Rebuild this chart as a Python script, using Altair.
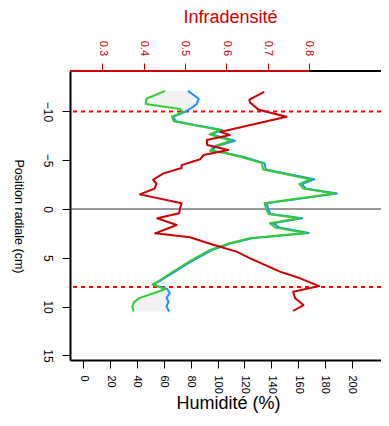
import altair as alt
import pandas as pd

# Humidity profiles (radial position in cm, humidity in %)
hum_y = [-12.1, -11.3, -10.75, -10.25, -9.95, -9.45, -9.0, -8.6, -8.1, -7.65,
         -7.0, -6.4, -5.95, -5.8, -5.35, -4.7, -4.05, -3.05, -2.55, -2.1,
         -1.6, -0.6, 0.1, 0.5, 0.95, 1.45, 1.9, 2.45, 3.0, 3.5,
         4.2, 5.2, 6.4, 7.3, 7.75, 8.2, 8.6, 9.1, 9.5, 10.0, 10.5]
green = [61, 47, 46.5, 72, 74.5, 66, 67.5, 82, 102, 94,
         110, 97, 94.5, 103, 117, 133, 134, 169, 161, 164,
         187, 135, 136.5, 138, 161, 139, 143, 166, 124, 109,
         94.5, 81, 67, 57, 51.5, 61, 53, 42, 38, 36.5, 37.5]
blue = [78, 86, 84.5, 79.5, 76, 67, 69, 83, 103.5, 95.5,
        113, 98.5, 96, 104.5, 119, 135, 136, 172, 163, 165.5,
        189, 136.5, 138, 139.5, 163, 141.5, 146, 168, 125.5, 110.5,
        96, 82.5, 68.5, 58, 52, 62.5, 64.5, 62, 63.5, 62, 64]

# Infradensity profile
dens_y = [-12.0, -11.2, -10.9, -10.2, -9.97, -9.46, -7.9, -7.58, -7.07, -6.56,
          -6.05, -5.53, -5.09, -4.5, -4.2, -3.65, -3.0, -2.6, -2.1, -1.5,
          -0.58, -0.07, 0.44, 0.95, 1.64, 2.49, 2.9, 3.45, 3.86, 4.37,
          5.05, 6.42, 7.1, 7.9, 8.47, 9.15, 9.84, 10.45]
dens = [0.692, 0.656, 0.658, 0.678, 0.698, 0.746, 0.585, 0.609, 0.553, 0.554,
        0.605, 0.545, 0.537, 0.492, 0.492, 0.448, 0.423, 0.431, 0.427, 0.391,
        0.492, 0.488, 0.486, 0.433, 0.48, 0.428, 0.512, 0.553, 0.585, 0.625,
        0.658, 0.73, 0.779, 0.825, 0.762, 0.767, 0.787, 0.762]

ref_lines = [-10, 8]
zero_line = [0]

hum_ticks = [0, 20, 40, 60, 80, 100, 120, 140, 160, 180, 200]
dens_ticks = [0.3, 0.4, 0.5, 0.6, 0.7, 0.8]
y_ticks = [-10, -5, 0, 5, 10, 15]

HUM_DOMAIN = [-9.9, 221.8]
DENS_DOMAIN = [0.2218, 0.9748]
Y_DOMAIN = [-14.14, 15.47]

RED = "#CC0000"

hum_df = pd.DataFrame({"y": hum_y, "G": green, "B": blue})
dens_df = pd.DataFrame({"y": dens_y, "d": dens})
ref_df = pd.DataFrame({"y": ref_lines})
zero_df = pd.DataFrame({"y": zero_line})
top_red_df = pd.DataFrame({"d": [DENS_DOMAIN[0]], "d2": [0.8]})
top_black_df = pd.DataFrame({"d": [0.8], "d2": [DENS_DOMAIN[1]]})

yscale = alt.Scale(domain=Y_DOMAIN, reverse=True, nice=False, zero=False)
hscale = alt.Scale(domain=HUM_DOMAIN, nice=False, zero=False)
dscale = alt.Scale(domain=DENS_DOMAIN, nice=False, zero=False)

yaxis = alt.Axis(values=y_ticks, title="Position radiale (cm)", grid=False,
                 labelAngle=90, labelAlign="center", labelBaseline="alphabetic",
                 labelPadding=18.5, tickSize=8, tickColor="black", tickWidth=1,
                 labelFontSize=12, labelColor="black", labelOverlap=False,
                 labelFlush=False, domainColor="black", domainWidth=2,
                 titleAngle=90, titleX=-56, titleY=145, titleAlign="center",
                 titleBaseline="alphabetic", titleFontSize=12.5,
                 titleFontWeight="normal", titleColor="black")

haxis = alt.Axis(orient="bottom", values=hum_ticks, title="Humidité (%)", grid=False,
                 labelAngle=90, labelAlign="left", labelBaseline="middle",
                 labelPadding=7, tickSize=8, tickColor="black", tickWidth=1,
                 labelFontSize=11, labelColor="black", labelOverlap=False,
                 labelFlush=False, domainColor="black", domainWidth=2,
                 titleX=158, titleY=48.5, titleAlign="center",
                 titleBaseline="alphabetic", titleFontSize=18,
                 titleFontWeight="normal", titleColor="black")

daxis = alt.Axis(orient="top", values=dens_ticks, format=".1f", title="Infradensité",
                 grid=False, domain=False,
                 labelAngle=90, labelAlign="right", labelBaseline="middle",
                 labelPadding=7.5, tickSize=8, tickColor=RED, tickWidth=1,
                 labelFontSize=11, labelColor=RED, labelOverlap=False,
                 labelFlush=False,
                 titleX=160, titleY=-48.5, titleAlign="center",
                 titleBaseline="alphabetic", titleFontSize=18,
                 titleFontWeight="normal", titleColor=RED)

Y = alt.Y("y:Q", scale=yscale, axis=yaxis)

area = alt.Chart(hum_df).mark_area(orient="horizontal", color="#F2F2F2").encode(
    x=alt.X("G:Q", scale=hscale, axis=haxis), x2="B:Q", y=Y)

zero_rule = alt.Chart(zero_df).mark_rule(color="#333333", strokeWidth=1).encode(y=Y)
ref_rule = alt.Chart(ref_df).mark_rule(color="#FF0000", strokeWidth=2,
                                       strokeDash=[4, 4]).encode(y=Y)

blue_line = alt.Chart(hum_df).mark_line(color="#1E90FF", strokeWidth=2,
                                        strokeJoin="round").encode(
    x=alt.X("B:Q", scale=hscale, axis=haxis), y=Y, order=alt.Order("y:Q"))
green_line = alt.Chart(hum_df).mark_line(color="#32CD32", strokeWidth=2,
                                         strokeJoin="round").encode(
    x=alt.X("G:Q", scale=hscale, axis=haxis), y=Y, order=alt.Order("y:Q"))

hum_layer = alt.layer(area, zero_rule, ref_rule, blue_line, green_line)

top_red = alt.Chart(top_red_df).mark_rule(strokeWidth=2, color=RED).encode(
    x=alt.X("d:Q", scale=dscale, axis=daxis), x2="d2:Q", y=alt.value(0))
top_black = alt.Chart(top_black_df).mark_rule(strokeWidth=2, color="black").encode(
    x=alt.X("d:Q", scale=dscale, axis=daxis), x2="d2:Q", y=alt.value(0))
red_line = alt.Chart(dens_df).mark_line(color=RED, strokeWidth=2,
                                        strokeJoin="round").encode(
    x=alt.X("d:Q", scale=dscale, axis=daxis), y=Y, order=alt.Order("y:Q"))

dens_layer = alt.layer(top_red, top_black, red_line)

chart = alt.layer(hum_layer, dens_layer).resolve_scale(x="independent").properties(
    width=311, height=289,
    padding={"left": 62, "top": 63, "right": 0, "bottom": 58},
    autosize=alt.AutoSizeParams(type="none"),
).configure(font="Liberation Sans").configure_view(stroke=None)

chart.save("out.html", embed_options={"renderer": "svg", "actions": False})
